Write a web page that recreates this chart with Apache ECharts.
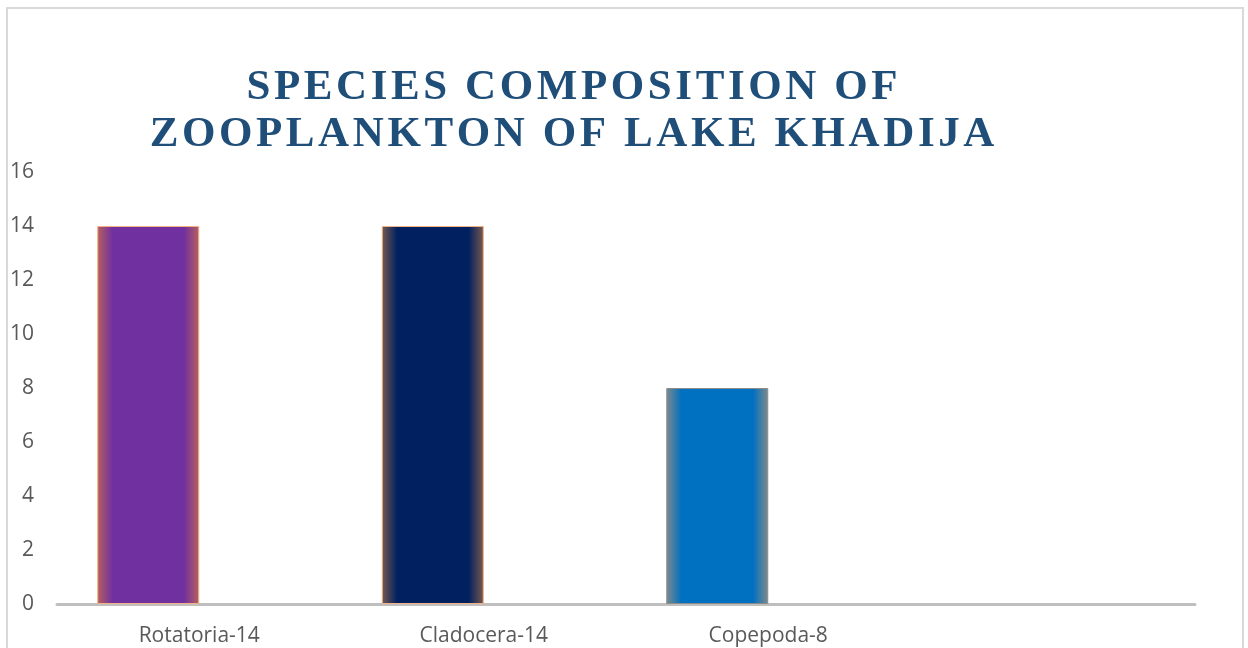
<!DOCTYPE html>
<html>
<head>
<meta charset="utf-8">
<script src="https://cdn.jsdelivr.net/npm/echarts@6/dist/echarts.min.js"></script>
<style>
  html, body { margin: 0; padding: 0; background: #fff; }
  #chart { width: 1248px; height: 648px; }
</style>
</head>
<body>
<div id="chart"></div>
<script>
  const categories = ['Rotatoria-14', 'Cladocera-14', 'Copepoda-8', ''];
  const counts = [14, 14, 8, null];
  const yTicks = [0, 2, 4, 6, 8, 10, 12, 14, 16];

  // bar fill + soft glowing edge, as in the original
  const barLooks = [
    { fill: '#7030A0', edge: '#b8605c', line: '#f4b183' },
    { fill: '#002060', edge: '#7a5a50', line: '#f4b183' },
    { fill: '#0070C0', edge: '#7f8a8c', line: '#8c8c8c' }
  ];

  function spaced(s) {
    return s.split('').join('\u200A');
  }

  function edgeGradient(look) {
    return new echarts.graphic.LinearGradient(0, 0, 1, 0, [
      { offset: 0, color: look.edge },
      { offset: 0.15, color: look.fill },
      { offset: 0.85, color: look.fill },
      { offset: 1, color: look.edge }
    ]);
  }

  const chart = echarts.init(document.getElementById('chart'), null, { renderer: 'canvas' });
  chart.setOption({
    animation: false,
    backgroundColor: '#fff',
    title: {
      text: spaced('SPECIES COMPOSITION OF') + '\n' + spaced('ZOOPLANKTON OF LAKE KHADIJA'),
      left: 567,
      top: 59,
      textAlign: 'center',
      textStyle: {
        fontFamily: 'Liberation Serif',
        fontWeight: 'bold',
        fontSize: 43,
        lineHeight: 47,
        color: '#1F4E79'
      }
    },
    graphic: [
      {
        type: 'rect',
        shape: { x: 7, y: 8, width: 1236, height: 660 },
        style: { fill: 'none', stroke: '#d9d9d9', lineWidth: 2 },
        silent: true
      }
    ],
    grid: { left: 57, right: 53, top: 172, bottom: 44 },
    xAxis: {
      type: 'category',
      data: categories,
      axisLine: { lineStyle: { color: '#bfbfbf', width: 3 } },
      axisTick: { show: false },
      axisLabel: {
        margin: 22,
        color: '#595959',
        fontSize: 21,
        fontFamily: 'Open Sans'
      }
    },
    yAxis: {
      type: 'value',
      min: yTicks[0],
      max: yTicks[yTicks.length - 1],
      interval: 2,
      axisLine: { show: false },
      axisTick: { show: false },
      splitLine: { show: false },
      axisLabel: {
        margin: 23,
        color: '#595959',
        fontSize: 21,
        fontFamily: 'Open Sans'
      }
    },
    series: [
      {
        type: 'bar',
        barWidth: 102,
        barGap: '0%',
        data: counts.map((v, i) => {
          const look = barLooks[i];
          if (!look) return v;
          return {
            value: v,
            itemStyle: {
              color: edgeGradient(look),
              borderColor: look.line,
              borderWidth: 1
            }
          };
        })
      },
      {
        type: 'bar',
        barWidth: 102,
        data: categories.map(() => null)
      }
    ]
  });
</script>
</body>
</html>
